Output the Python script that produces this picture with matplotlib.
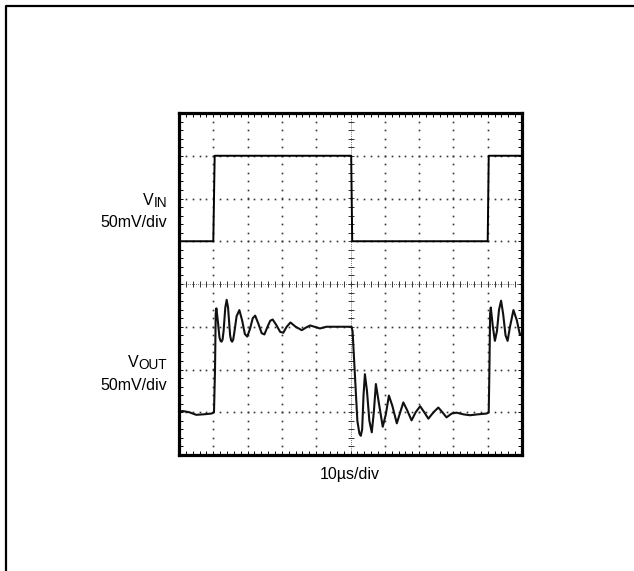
import numpy as np
import matplotlib
matplotlib.use("Agg")
import matplotlib.pyplot as plt
from matplotlib.lines import Line2D
from matplotlib.ticker import MultipleLocator

plt.rcParams['font.family'] = ['Liberation Sans Narrow', 'Liberation Sans', 'DejaVu Sans']

# scope traces, in divisions (x: 0..10, y: -4..4)
vin_t = [0.0, 1.0, 1.04, 5.02, 5.05, 9.0, 9.03, 10.0]
vin_v = [1.0, 1.0, 3.0, 3.0, 1.0, 1.0, 3.0, 3.0]

vout_t = [0.0, 0.1, 0.3, 0.5, 0.7, 0.95, 1.02, 1.05, 1.07, 1.09, 1.13, 1.18,
          1.21, 1.24, 1.27, 1.30, 1.35, 1.39, 1.43, 1.49, 1.52, 1.55, 1.58,
          1.61, 1.68, 1.76, 1.84, 1.92, 1.99, 2.07, 2.15, 2.22, 2.31, 2.41,
          2.49, 2.58, 2.66, 2.73, 2.83, 2.95, 3.04, 3.14, 3.25, 3.40, 3.58,
          3.70, 3.82, 3.95, 4.11, 4.30, 4.60, 4.90, 5.03, 5.06, 5.12, 5.20,
          5.26, 5.30, 5.34, 5.38, 5.42, 5.48, 5.55, 5.62, 5.68, 5.74, 5.82,
          5.94, 6.03, 6.12, 6.22, 6.35, 6.45, 6.54, 6.65, 6.78, 6.90, 7.03,
          7.15, 7.27, 7.42, 7.56, 7.68, 7.80, 7.95, 8.09, 8.30, 8.48, 8.70,
          8.97, 9.03, 9.05, 9.07, 9.09, 9.15, 9.21, 9.27, 9.33, 9.39, 9.45,
          9.52, 9.58, 9.65, 9.75, 9.85, 9.94, 10.0]
vout_v = [-3.0, -2.97, -3.0, -3.06, -3.05, -3.03, -3.0, -2.0, -0.7, -0.57,
          -0.85, -1.25, -1.33, -1.35, -1.3, -1.1, -0.55, -0.37, -0.55, -1.2,
          -1.32, -1.35, -1.3, -1.15, -0.75, -0.61, -0.85, -1.17, -1.23, -1.05,
          -0.8, -0.74, -0.92, -1.15, -1.18, -1.0, -0.86, -0.83, -0.95, -1.12,
          -1.14, -1.0, -0.9, -1.0, -1.08, -1.02, -0.97, -1.0, -1.04, -1.0,
          -1.0, -1.0, -1.0, -1.1, -2.0, -3.2, -3.5, -3.55, -3.4, -2.6, -2.11,
          -2.5, -3.2, -3.47, -3.0, -2.34, -2.75, -3.34, -3.05, -2.61, -2.85,
          -3.26, -3.0, -2.77, -2.95, -3.19, -3.0, -2.86, -3.0, -3.15, -3.0,
          -2.89, -3.0, -3.12, -3.03, -3.01, -3.05, -3.07, -3.05, -3.03, -3.0,
          -2.0, -0.7, -0.55, -1.0, -1.33, -1.1, -0.6, -0.39, -0.7, -1.2, -1.33,
          -1.0, -0.61, -0.85, -1.19, -1.15]

W, H = 634, 571
fig = plt.figure(figsize=(W / 100, H / 100), dpi=100)

# outer frame (only top and left visible)
fig.add_artist(Line2D([6 / W, 6 / W, 1.0], [0.0, 1 - 6 / H, 1 - 6 / H],
                      color='black', lw=1.6, transform=fig.transFigure))

ax = fig.add_axes([179 / W, 1 - 455 / H, 343 / W, 342 / H])
ax.set_xlim(0, 10)
ax.set_ylim(-4, 4)

# dotted graticule
steps = np.arange(0, 10.01, 0.2)
ysteps = np.arange(-4, 4.01, 0.2)
for gx in range(1, 10):
    if gx == 5:
        continue
    ax.plot(np.full(len(ysteps), gx), ysteps, ls='none', marker='s',
            ms=1.2, mew=0, color='#333333')
for gy in range(-3, 4):
    if gy == 0:
        continue
    ax.plot(steps, np.full(len(steps), gy), ls='none', marker='s',
            ms=1.2, mew=0, color='#333333')

# centre cross with minor ticks
ax.plot([5, 5], [-4, 4], color='#444444', lw=0.6, ls=(0, (1, 1.5)))
ax.plot([0, 10], [0, 0], color='#444444', lw=0.6, ls=(0, (1, 1.5)))
ax.plot(np.full(len(ysteps), 5), ysteps, ls='none', marker='_', ms=5,
        mew=0.7, color='#333333')
ax.plot(steps, np.zeros(len(steps)), ls='none', marker='|', ms=5,
        mew=0.7, color='#333333')

# traces
ax.plot(vin_t, vin_v, color='black', lw=1.4)
ax.plot(vout_t, vout_v, color='#111111', lw=1.5)

ax.xaxis.set_major_locator(MultipleLocator(1))
ax.xaxis.set_minor_locator(MultipleLocator(0.2))
ax.yaxis.set_major_locator(MultipleLocator(1))
ax.yaxis.set_minor_locator(MultipleLocator(0.2))
ax.tick_params(which='both', direction='in', top=True, right=True,
               length=3, width=0.7, labelbottom=False, labelleft=False)
for sp in ax.spines.values():
    sp.set_linewidth(2.3)

# labels
fs = 11.5
renderer = fig.canvas.get_renderer()


def label_with_sub(main, sub, x_px, base_px):
    """Right-aligned label like V_IN with a near-full-size subscript."""
    s = fig.text(x_px / W, 1 - (base_px + 2) / H, sub, ha='right',
                 va='baseline', fontsize=fs * 0.85)
    sw = s.get_window_extent(renderer).width
    fig.text((x_px - sw) / W, 1 - base_px / H, main, ha='right',
             va='baseline', fontsize=fs)


label_with_sub('V', 'IN', 167, 205)
fig.text(167 / W, 1 - 227 / H, '50mV/div', ha='right', va='baseline',
         fontsize=fs)
label_with_sub('V', 'OUT', 167, 367)
fig.text(167 / W, 1 - 390 / H, '50mV/div', ha='right', va='baseline',
         fontsize=fs)
fig.text(350 / W, 1 - 479 / H, '10µs/div', ha='center', va='baseline',
         fontsize=fs)

fig.savefig('out.png', dpi=100)
